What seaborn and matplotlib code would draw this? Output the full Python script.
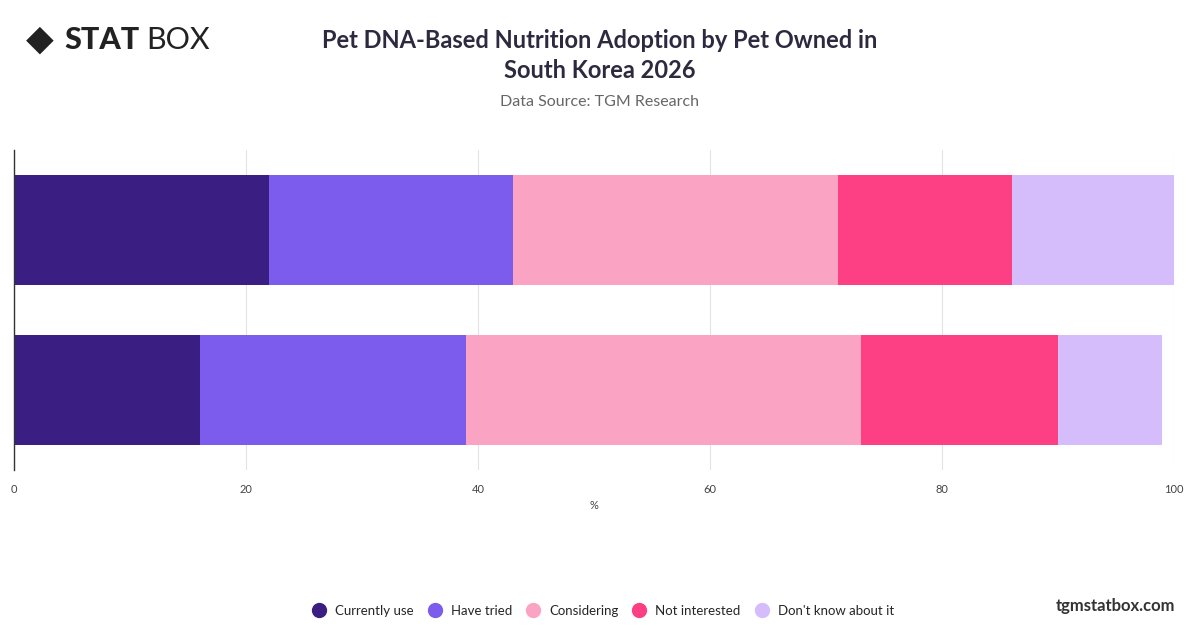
import matplotlib
matplotlib.use("Agg")
import matplotlib.pyplot as plt
import seaborn as sns
import pandas as pd
import numpy as np

categories = ["Dog", "Cat"]
series = ["Currently use", "Have tried", "Considering", "Not interested", "Don't know about it"]
currently_use = [22, 16]
have_tried = [21, 23]
considering = [28, 34]
not_interested = [15, 17]
dont_know = [14, 9]
colors = ["#3a1e82", "#7b5cec", "#fba3c3", "#fd3f83", "#d4bdfa"]
xticks = [0, 20, 40, 60, 80, 100]

sns.set_theme(style="white")
plt.rcParams['font.family'] = ['Lato', 'DejaVu Sans']

fig = plt.figure(figsize=(12, 6.28), dpi=100)
ax = fig.add_axes([14/1200, 1-470/628, 1160/1200, 320/628])

vals = [currently_use, have_tried, considering, not_interested, dont_know]
cum = np.cumsum(np.array(vals), axis=0)
for i in range(len(series) - 1, -1, -1):
    df = pd.DataFrame({"cat": categories, "val": cum[i]})
    sns.barplot(data=df, x="val", y="cat", orient="h", color=colors[i],
                width=0.69, ax=ax, saturation=1, edgecolor="none", linewidth=0)

ax.set_xlim(0, 100)
ax.set_xticks(xticks)
ax.set_xticklabels([str(t) for t in xticks], fontsize=8, color="#444444")
ax.set_yticks([])
ax.set_ylabel("")
ax.set_xlabel("%", fontsize=8, color="#444444", labelpad=4)
ax.grid(axis="x", color="#e3e3e3", linewidth=0.8)
ax.set_axisbelow(True)
for s in ["top", "right", "bottom"]:
    ax.spines[s].set_visible(False)
ax.spines["left"].set_color("#333333")
ax.spines["left"].set_linewidth(1)
ax.tick_params(axis="x", length=0, pad=10)

fig.text(0.5, 1-40/628, "Pet DNA-Based Nutrition Adoption by Pet Owned in", ha="center", va="center",
         fontsize=17, fontweight="bold", color="#2d2a40")
fig.text(0.5, 1-71/628, "South Korea 2026", ha="center", va="center",
         fontsize=17, fontweight="bold", color="#2d2a40")
fig.text(0.5, 1-102/628, "Data Source: TGM Research", ha="center", va="center",
         fontsize=11.5, color="#666666")

# logo
fig.text(26/1200, 1-40/628, "◆", fontsize=26, color="#222222", va="center", ha="left", family=["DejaVu Sans"])
fig.text(64/1200, 1-40/628, "STAT", fontsize=22, fontweight="black", color="#222222", va="center", ha="left")
fig.text(146/1200, 1-40/628, "BOX", fontsize=22, color="#222222", va="center", ha="left")

fig.text(1175/1200, 1-606/628, "tgmstatbox.com", fontsize=12, fontweight="bold", color="#333333",
         ha="right", va="center")

handles = [plt.Line2D([], [], marker="o", linestyle="", markersize=10, color=c) for c in colors]
fig.legend(handles, series, loc="center", bbox_to_anchor=(0.5, 1-611/628), ncol=5, frameon=False,
           fontsize=9.5, handletextpad=0.2, columnspacing=0.6)

fig.savefig("out.png", dpi=100)
